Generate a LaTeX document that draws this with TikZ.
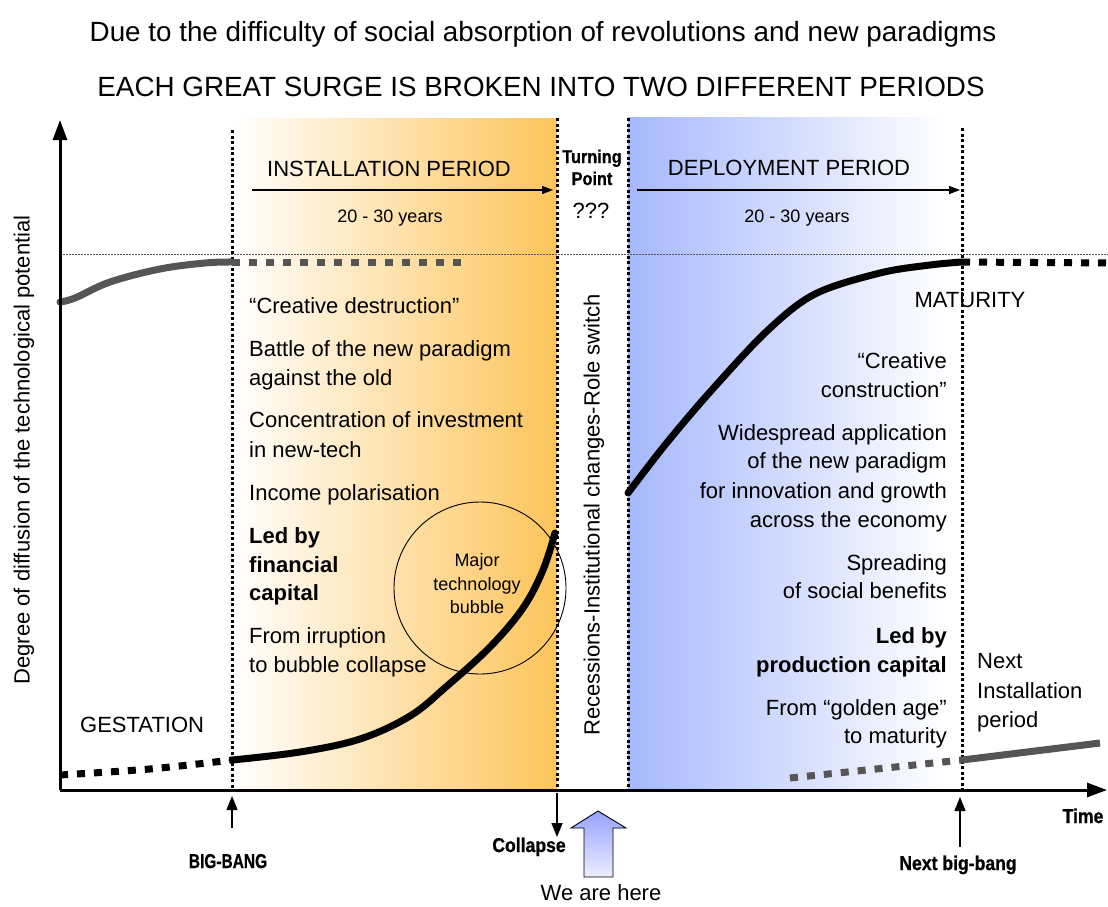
\documentclass[tikz,border=0pt]{standalone}
\usepackage{fontspec}
\setmainfont{Liberation Sans}
\newfontfamily\condfont{Liberation Sans}[FakeStretch=0.88,FakeBold=0.8]
\usetikzlibrary{arrows.meta}
\definecolor{orng}{RGB}{253,196,90}
\definecolor{blu}{RGB}{166,184,252}
\definecolor{curvegray}{RGB}{85,85,85}
\definecolor{arrtop}{RGB}{150,162,255}
\definecolor{arrbot}{RGB}{236,238,255}
\begin{document}
\begin{tikzpicture}[x=1pt,y=-1pt,
  txt/.style={inner sep=0pt,font=\fontsize{22}{26}\selectfont},
  btxt/.style={inner sep=0pt,font=\fontsize{22}{26}\selectfont\bfseries},
  ctxt/.style={inner sep=0pt,font=\fontsize{20}{24}\condfont\bfseries},
  ttl/.style={inner sep=0pt,font=\fontsize{27.8}{32}\selectfont},
  yrs/.style={inner sep=0pt,font=\fontsize{18}{22}\selectfont},
  vdot/.style={line width=3pt,dash pattern=on 3pt off 2.5pt},
  thickdot/.style={line width=7pt,dash pattern=on 8pt off 9pt},
  thick curve/.style={line width=7pt,line cap=round},
  axisline/.style={line width=3pt,-{Triangle[length=20pt,width=14pt]}},
  periodarrow/.style={line width=1.3pt,-{Triangle[length=11pt,width=8pt]}},
  markarrow/.style={line width=1.4pt,-{Triangle[length=14pt,width=11pt]}},
]
\useasboundingbox (0,0) rectangle (1108,907);
\fill[white] (0,0) rectangle (1108,907);

% shaded periods
\shade[left color=white,right color=orng] (232,118) rectangle (557,790);
\shade[left color=blu,right color=white] (628,117) rectangle (945,790);

% reference line of full potential
\coordinate (fullL) at (60,254);
\coordinate (fullR) at (1108,254);
\draw[curvegray,line width=1pt,dash pattern=on 1.5pt off 1.5pt] (fullL) -- (fullR);

% dotted vertical lines
\coordinate (v1t) at (232,130); \coordinate (v1b) at (232,790);
\coordinate (v2t) at (557,118); \coordinate (v2b) at (557,790);
\coordinate (v3t) at (628,118); \coordinate (v3b) at (628,790);
\coordinate (v4t) at (962,128); \coordinate (v4b) at (962,790);
\draw[vdot] (v1t) -- (v1b);
\draw[vdot] (v2t) -- (v2b);
\draw[vdot] (v3t) -- (v3b);
\draw[vdot] (v4t) -- (v4b);

% previous surge (gray, top left)
\coordinate (prevStart) at (60,302);
\coordinate (prevEnd) at (232,262);
\coordinate (prevDotEnd) at (462,262);
\draw[curvegray,thick curve] plot[smooth,tension=0.6] coordinates {(prevStart) (75,298) (110,282) (160,269) (205,263) (prevEnd)};
\draw[curvegray,thickdot] (prevEnd) -- (prevDotEnd);

% current surge: gestation and installation
\coordinate (gestStart) at (60,775);
\coordinate (bigbang) at (232,760);
\coordinate (collapseTop) at (555,533);
\draw[thickdot] plot[smooth,tension=0.5] coordinates {(gestStart) (150,769) (bigbang)};
\draw[thick curve] plot[smooth,tension=0.6] coordinates {(bigbang) (300,752) (360,739) (410,716) (447,686) (490,647) (523,608) (543,570) (collapseTop)};

% deployment curve
\coordinate (depStart) at (628,493);
\coordinate (maturity) at (962,262);
\coordinate (matDotEnd) at (1108,263);
\draw[thick curve] plot[smooth,tension=0.55] coordinates {(depStart) (665,445) (710,392) (767,331) (815,294) (880,273) (930,265) (maturity)};
\draw[thickdot] (maturity) -- (matDotEnd);

% next surge (gray, bottom right)
\coordinate (nextDotStart) at (790,778);
\coordinate (nextbb) at (962,760);
\coordinate (nextEnd) at (1100,743);
\draw[curvegray,thickdot] (nextDotStart) -- (nextbb);
\draw[curvegray,line width=7pt] (nextbb) -- (nextEnd);

% bubble circle
\node[circle,draw,line width=0.9pt,minimum size=172pt,inner sep=0pt] (bubble) at (480,588) {};
\node[inner sep=0pt,font=\fontsize{18}{23.5}\selectfont,align=center] (bubbletxt) at (477,584) {Major\\technology\\bubble};

% axes
\coordinate (O) at (60,790);
\coordinate (ytop) at (60,120);
\coordinate (xend) at (1107,790);
\draw[axisline] (O) -- (ytop);
\draw[axisline] (O) -- (xend);

% titles
\node[ttl,anchor=base] (title1) at (543,42) {Due to the difficulty of social absorption of revolutions and new paradigms};
\node[ttl,anchor=base] (title2) at (541,96) {EACH GREAT SURGE IS BROKEN INTO TWO DIFFERENT PERIODS};

% period headers
\node[txt,anchor=base] (inst) at (389,176) {INSTALLATION PERIOD};
\coordinate (instA) at (252,190); \coordinate (instB) at (553,190);
\draw[periodarrow] (instA) -- (instB);
\node[yrs,anchor=base] (instyrs) at (390,222) {20 - 30 years};

\node[txt,anchor=base] (dep) at (789,175) {DEPLOYMENT PERIOD};
\coordinate (depA) at (637,190); \coordinate (depB) at (960,190);
\draw[periodarrow] (depA) -- (depB);
\node[yrs,anchor=base] (depyrs) at (797,222) {20 - 30 years};

\node[inner sep=0pt,font=\fontsize{18.5}{21}\condfont\bfseries,anchor=base] (turn1) at (592,163) {Turning};
\node[inner sep=0pt,font=\fontsize{18.5}{21}\condfont\bfseries,anchor=base] (turn2) at (592,185) {Point};
\node[txt,anchor=base] (qqq) at (591,218) {???};

% axis label and middle label
\node[txt,rotate=90] (ylabel) at (24,450) {Degree of diffusion of the technological potential};
\node[txt,rotate=90] (recess) at (594,515) {Recessions-Institutional changes-Role switch};

% left text block
\node[txt,anchor=base west] (l1) at (249,313) {“Creative destruction”};
\node[txt,anchor=base west] (l2) at (249,356) {Battle of the new paradigm};
\node[txt,anchor=base west] (l3) at (249,385) {against the old};
\node[txt,anchor=base west] (l4) at (249,427) {Concentration of investment};
\node[txt,anchor=base west] (l5) at (249,457) {in new-tech};
\node[txt,anchor=base west] (l6) at (249,500) {Income polarisation};
\node[btxt,anchor=base west] (l7) at (249,543) {Led by};
\node[btxt,anchor=base west] (l8) at (249,572) {financial};
\node[btxt,anchor=base west] (l9) at (249,600) {capital};
\node[txt,anchor=base west] (l10) at (249,643) {From irruption};
\node[txt,anchor=base west] (l11) at (249,672) {to bubble collapse};

\node[txt,anchor=base west] (gest) at (80,732) {GESTATION};

% right text block
\node[txt,anchor=base east] (r1) at (947,368) {“Creative};
\node[txt,anchor=base east] (r2) at (947,397) {construction”};
\node[txt,anchor=base east] (r3) at (947,440) {Widespread application};
\node[txt,anchor=base east] (r4) at (947,468) {of the new paradigm};
\node[txt,anchor=base east] (r5) at (947,498) {for innovation and growth};
\node[txt,anchor=base east] (r6) at (947,527) {across the economy};
\node[txt,anchor=base east] (r7) at (947,570) {Spreading};
\node[txt,anchor=base east] (r8) at (947,598) {of social benefits};
\node[btxt,anchor=base east] (r9) at (947,643) {Led by};
\node[btxt,anchor=base east] (r10) at (947,672) {production capital};
\node[txt,anchor=base east] (r11) at (947,715) {From “golden age”};
\node[txt,anchor=base east] (r12) at (947,743) {to maturity};

\node[txt,anchor=base] (mat) at (970,307) {MATURITY};

\node[txt,anchor=base west] (n1) at (977,668) {Next};
\node[txt,anchor=base west] (n2) at (977,698) {Installation};
\node[txt,anchor=base west] (n3) at (977,727) {period};

% bottom labels
\node[ctxt,anchor=base] (time) at (1083,823) {Time};

\node[ctxt,anchor=base,xscale=0.88] (bigbangtxt) at (228,868) {BIG-BANG};
\coordinate (bbArrowFrom) at (232,828);
\coordinate (bbArrowTo) at (232,796);
\draw[markarrow] (bbArrowFrom) -- (bbArrowTo);

\node[ctxt,anchor=base] (collapse) at (529,852) {Collapse};
\coordinate (colFrom) at (557,793);
\coordinate (colTo) at (557,837);
\draw[markarrow] (colFrom) -- (colTo);

\node[ctxt,anchor=base] (nextbbtxt) at (958,870) {Next big-bang};
\coordinate (nbFrom) at (960,847);
\coordinate (nbTo) at (960,797);
\draw[markarrow] (nbFrom) -- (nbTo);

% we are here
\draw[line width=0.9pt,top color=arrtop,bottom color=arrbot]
  (598,811) -- (626,828) -- (613,828) -- (613,877) -- (584,877) -- (584,828) -- (571,828) -- cycle;
\node[txt,anchor=base] (here) at (601,900) {We are here};
\end{tikzpicture}
\end{document}
